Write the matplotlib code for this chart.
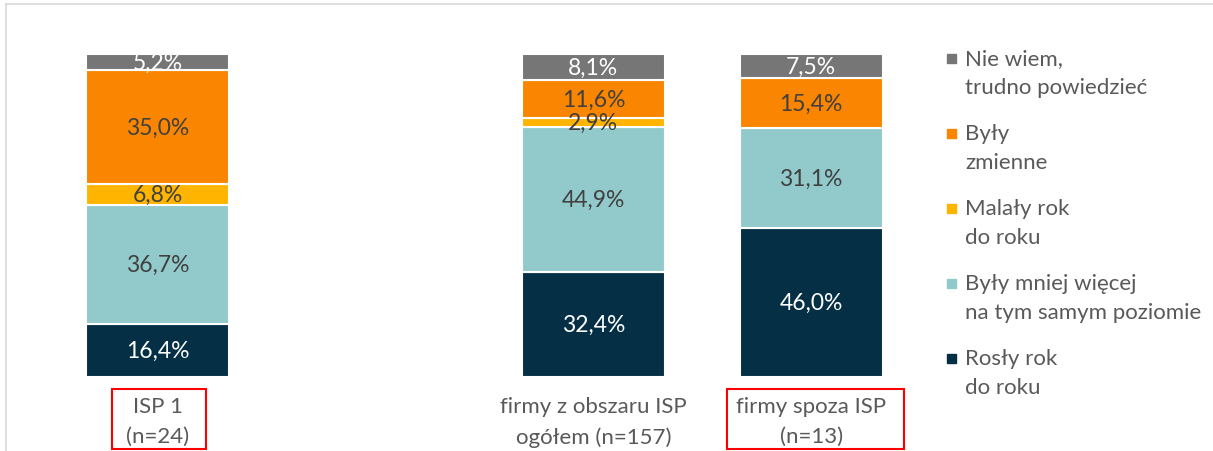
import numpy as np
import matplotlib
matplotlib.use("Agg")
import matplotlib.pyplot as plt
from matplotlib.patches import Rectangle
from matplotlib.lines import Line2D

plt.rcParams["font.family"] = ["Lato", "DejaVu Sans"]

categories = ["ISP 1\n(n=24)", "firmy z obszaru ISP\nogółem (n=157)", "firmy spoza ISP\n(n=13)"]
positions = [0, 2, 3]  # empty slot at 1
series = ["Rosły rok\ndo roku", "Były mniej więcej\nna tym samym poziomie", "Malały rok\ndo roku",
          "Były\nzmienne", "Nie wiem,\ntrudno powiedzieć"]
rosly = [16.4, 32.4, 46.0]
bez_zmian = [36.7, 44.9, 31.1]
malaly = [6.8, 2.9, 0.0]
zmienne = [35.0, 11.6, 15.4]
nie_wiem = [5.2, 8.1, 7.5]
values = [rosly, bez_zmian, malaly, zmienne, nie_wiem]
colors = ["#052F45", "#92CACB", "#FFB400", "#FA8500", "#767676"]
label_colors = ["white", "#404040", "#404040", "#404040", "white"]

W, H = 1213, 452
fig = plt.figure(figsize=(W / 100, H / 100), dpi=100)
ax = fig.add_axes([49 / W, 1 - 378 / H, 871 / W, 323 / H])

bottom = np.zeros(len(positions))
for vals, col, lcol in zip(values, colors, label_colors):
    vals = np.array(vals)
    ax.bar(positions, vals, width=0.656, bottom=bottom, color=col, edgecolor="white", linewidth=1.5)
    for x, v, b in zip(positions, vals, bottom):
        if v > 0:
            ax.text(x, b + v / 2, f"{v:.1f}".replace(".", ",") + "%", ha="center", va="center",
                    fontsize=16.5, color=lcol)
    bottom += vals

ax.set_xlim(-0.5, 3.5)
ax.set_ylim(0, 100)
ax.set_xticks(positions)
ax.set_xticklabels(categories, fontsize=16, color="#595959")
for lbl in ax.get_xticklabels():
    lbl.set_linespacing(1.6)
ax.tick_params(axis="x", length=0, pad=14)
ax.set_yticks([])
for s in ax.spines.values():
    s.set_visible(False)

# legend drawn by hand: marker beside the first line of each entry
for i, (name, col) in enumerate(zip(series[::-1], colors[::-1])):
    y = 59 + i * 75
    fig.patches.append(Rectangle((947 / W, 1 - (y + 4.5) / H), 9 / W, 9 / H,
                                 transform=fig.transFigure, color=col))
    fig.text(965 / W, 1 - (y - 10) / H, name, fontsize=16, color="#595959",
             va="top", ha="left", linespacing=1.55)

# red boxes around highlighted categories
for x0, x1 in [(112, 206), (727, 904)]:
    fig.patches.append(Rectangle((x0 / W, 1 - 450 / H), (x1 - x0) / W, 60 / H,
                                 transform=fig.transFigure, fill=False, edgecolor="#FF0000", linewidth=1.5))

# outer frame
fig.lines.append(Line2D([6 / W, 6 / W], [0, 1 - 5 / H], transform=fig.transFigure, color="#D9D9D9", linewidth=1.2))
fig.lines.append(Line2D([6 / W, 1], [1 - 5 / H, 1 - 5 / H], transform=fig.transFigure, color="#D9D9D9", linewidth=1.2))

fig.savefig("out.png", dpi=100)
